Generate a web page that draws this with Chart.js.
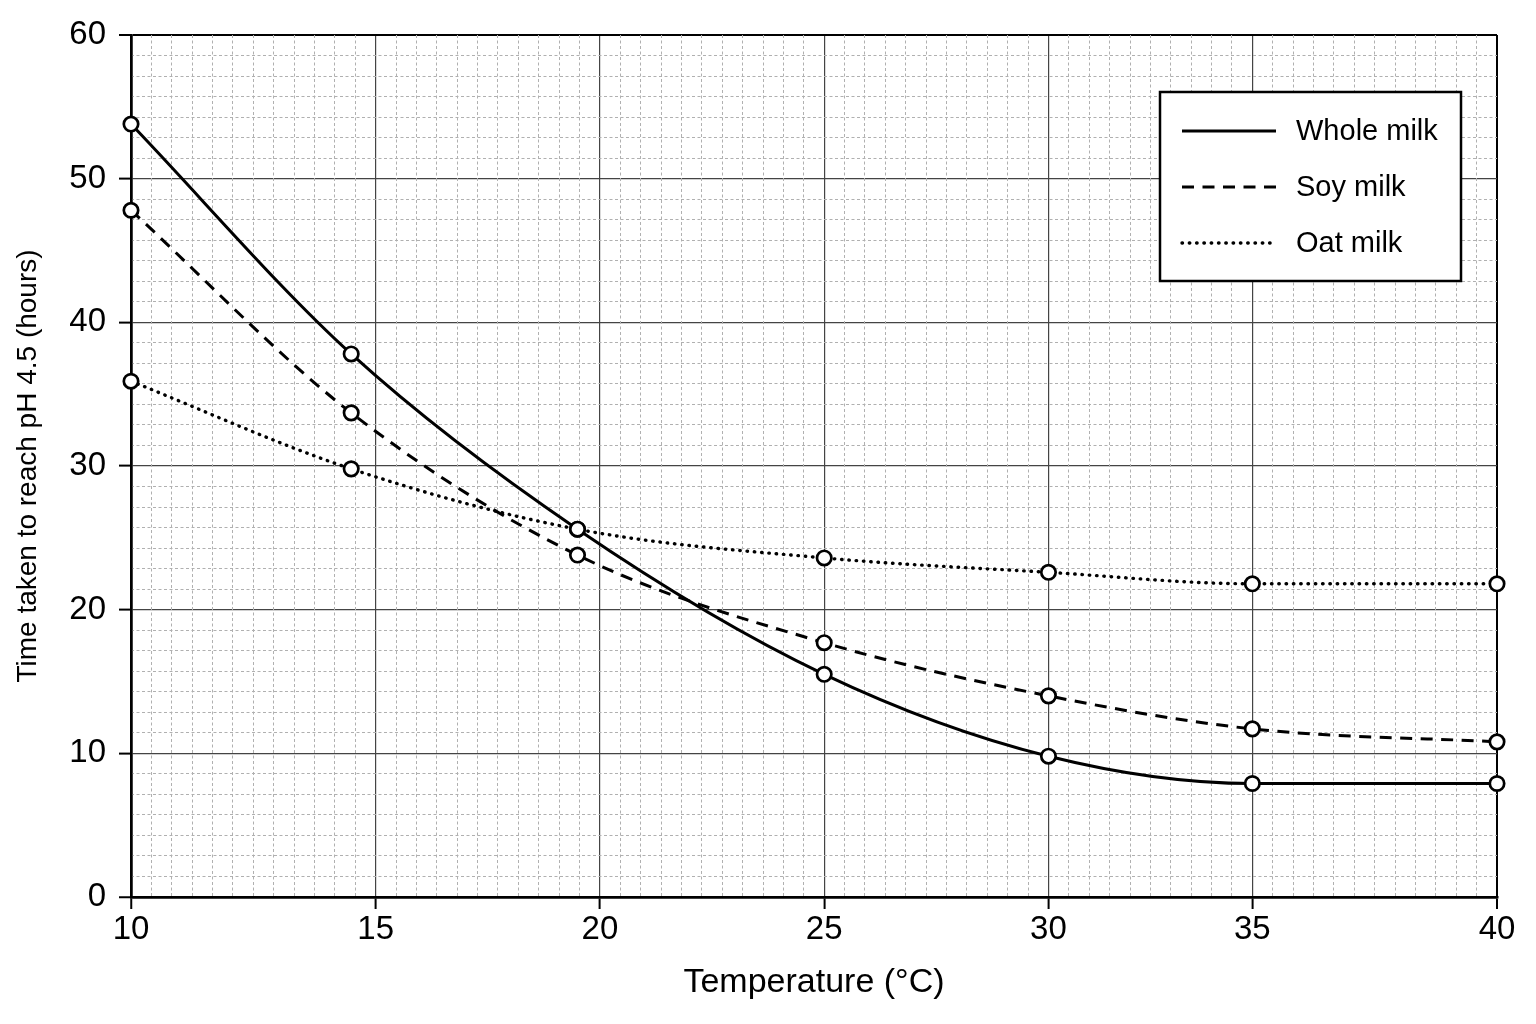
<!DOCTYPE html>
<html>
<head>
<meta charset="utf-8">
<script src="https://cdn.jsdelivr.net/npm/chart.js@4.4.1/dist/chart.umd.min.js"></script>
<style>
html,body{margin:0;padding:0;background:#fff;}
#wrap{width:1536px;height:1024px;position:relative;background:#fff;}
</style>
</head>
<body>
<div id="wrap"><canvas id="c"></canvas></div>
<script>
// ---------- data ----------
const temperatures = [10, 14.5, 19.5, 25, 30, 35, 40];
const wholeMilk = [53.8, 37.8, 25.6, 15.5, 9.8, 7.9, 7.9];
const soyMilk   = [47.8, 33.7, 23.8, 17.7, 14.0, 11.7, 10.8];
const oatMilk   = [35.9, 29.8, 25.6, 23.6, 22.6, 21.8, 21.8];
const seriesLabels = ['Whole milk', 'Soy milk', 'Oat milk'];
const xTickValues = [10, 15, 20, 25, 30, 35, 40];
const yTickValues = [0, 10, 20, 30, 40, 50, 60];
const xTitle = 'Temperature (°C)';
const yTitle = 'Time taken to reach pH 4.5 (hours)';

// ---------- axis layout (graph paper) ----------
// The printed x axis is not uniform: each labelled tick sits on a grid-paper cell line.
const xTickCells = [0, 12, 23, 34, 45, 55, 67];
const yCells = 42;
const yCellsPerMajor = yCells / (yTickValues.length - 1);
const xCellsTotal = xTickCells[xTickCells.length - 1];

// ---------- fonts ----------
function hasFont(name) {
  const c = document.createElement('canvas').getContext('2d');
  const s = 'Whole milk Temperature 0123';
  c.font = '40px monospace';
  const a = c.measureText(s).width;
  c.font = '40px "' + name + '", monospace';
  const b = c.measureText(s).width;
  return Math.abs(a - b) > 0.5;
}
const narrowOK = hasFont('Liberation Sans Narrow');
const SANS = '"Liberation Sans", Arial, Helvetica, sans-serif';
const NARROW = narrowOK ? '"Liberation Sans Narrow", "Arial Narrow", sans-serif' : SANS;
const legendFontSize = narrowOK ? 35 : 29;
const yTitleSize = narrowOK ? 34 : 28;

// ---------- piecewise linear scale ----------
class PaperScale extends Chart.LinearScale {
  static id = 'paper';
  static defaults = {};
  _toCells(v) {
    const t = xTickValues, c = xTickCells;
    let i = 0;
    while (i < t.length - 2 && v > t[i + 1]) i++;
    return c[i] + (v - t[i]) / (t[i + 1] - t[i]) * (c[i + 1] - c[i]);
  }
  getPixelForValue(value) {
    if (value === null || value === undefined || isNaN(value)) return NaN;
    return this.getPixelForDecimal(this._toCells(value) / xCellsTotal);
  }
  getValueForPixel(pixel) {
    const cell = this.getDecimalForPixel(pixel) * xCellsTotal;
    const t = xTickValues, c = xTickCells;
    let i = 0;
    while (i < c.length - 2 && cell > c[i + 1]) i++;
    return t[i] + (cell - c[i]) / (c[i + 1] - c[i]) * (t[i + 1] - t[i]);
  }
}
Chart.register(PaperScale);

// ---------- legend plugin ----------
const paperLegend = {
  id: 'paperLegend',
  afterDraw(chart) {
    const {ctx, chartArea} = chart;
    const w = 301, h = 189;
    const x = chartArea.right - 36 - w;
    const y = chartArea.top + 57;
    ctx.save();
    ctx.fillStyle = '#fff';
    ctx.fillRect(x, y, w, h);
    ctx.lineWidth = 2.5;
    ctx.strokeStyle = '#000';
    ctx.setLineDash([]);
    ctx.strokeRect(x, y, w, h);
    chart.data.datasets.forEach((ds, i) => {
      const cy = y + 39 + i * 56;
      ctx.save();
      ctx.setLineDash(ds.borderDash || []);
      ctx.lineCap = ds.borderCapStyle || 'butt';
      ctx.lineWidth = ds.borderWidth;
      ctx.strokeStyle = ds.borderColor;
      ctx.beginPath();
      ctx.moveTo(x + 22, cy);
      ctx.lineTo(x + 116, cy);
      ctx.stroke();
      ctx.restore();
      ctx.fillStyle = '#000';
      ctx.font = legendFontSize + 'px ' + NARROW;
      ctx.textBaseline = 'middle';
      ctx.textAlign = 'left';
      ctx.fillText(ds.label, x + 136, cy + 1);
    });
    ctx.restore();
  }
};

const toPoints = arr => temperatures.map((t, i) => ({x: t, y: arr[i]}));
const common = {
  xAxisID: 'x',
  yAxisID: 'y',
  borderColor: '#000',
  borderWidth: 3,
  pointRadius: 7.2,
  pointHoverRadius: 7.2,
  pointBorderWidth: 2.7,
  pointBackgroundColor: '#fff',
  pointBorderColor: '#000',
  cubicInterpolationMode: 'monotone',
  fill: false,
  clip: false
};

const edgeY = v => v === yTickValues[0] || v === yTickValues[yTickValues.length - 1];
const edgeX = v => v === xTickValues[0] || v === xTickValues[xTickValues.length - 1];

new Chart(document.getElementById('c'), {
  type: 'line',
  data: {
    datasets: [
      Object.assign({}, common, {label: seriesLabels[0], data: toPoints(wholeMilk), borderDash: []}),
      Object.assign({}, common, {label: seriesLabels[1], data: toPoints(soyMilk), borderDash: [12, 8.5]}),
      Object.assign({}, common, {label: seriesLabels[2], data: toPoints(oatMilk), borderDash: [0.5, 6.8], borderCapStyle: 'round', borderWidth: 3.4})
    ]
  },
  plugins: [paperLegend],
  options: {
    responsive: true,
    maintainAspectRatio: false,
    animation: false,
    layout: {padding: {left: 0, right: 39, top: 35, bottom: 0}},
    plugins: {legend: {display: false}, tooltip: {enabled: false}},
    scales: {
      x: {
        type: 'paper', position: 'bottom',
        min: xTickValues[0], max: xTickValues[xTickValues.length - 1],
        afterBuildTicks: s => { s.ticks = xTickValues.map(v => ({value: v})); },
        ticks: {padding: 1, maxRotation: 0, autoSkip: false, color: '#000',
          font: {family: SANS, size: 33}},
        grid: {
          color: c => (c.tick && edgeX(c.tick.value)) ? '#000' : '#444',
          lineWidth: c => (c.tick && c.tick.value === xTickValues[0]) ? 2.5 : (c.tick && edgeX(c.tick.value) ? 2 : 1.2),
          tickColor: '#000', tickWidth: 2, tickLength: 12, drawTicks: true
        },
        border: {display: true, color: '#000', width: 2.5},
        title: {display: true, text: xTitle, color: '#000',
          font: {family: SANS, size: 34}, padding: {top: 0, bottom: 21}},
        afterFit: s => { s.height = 127; }
      },
      y: {
        type: 'linear', position: 'left',
        min: yTickValues[0], max: yTickValues[yTickValues.length - 1],
        afterBuildTicks: s => { s.ticks = yTickValues.map(v => ({value: v})); },
        ticks: {padding: 13, color: '#000', font: {family: SANS, size: 33}},
        grid: {
          color: c => (c.tick && edgeY(c.tick.value)) ? '#000' : '#444',
          lineWidth: c => (c.tick && c.tick.value === yTickValues[0]) ? 2.5 : (c.tick && edgeY(c.tick.value) ? 2 : 1.2),
          tickColor: '#000', tickWidth: 2, tickLength: 12, drawTicks: true
        },
        border: {display: true, color: '#000', width: 2.5},
        title: {display: true, text: yTitle, color: '#000',
          font: {family: NARROW, size: yTitleSize}, padding: {top: 11, bottom: 0}},
        afterFit: s => { s.width = 131; }
      },
      xMinor: {
        type: 'linear', position: 'bottom', min: 0, max: xCellsTotal, z: -1,
        ticks: {display: false, stepSize: 1},
        grid: {drawTicks: false, lineWidth: 1,
          color: c => (c.tick && xTickCells.includes(c.tick.value)) ? 'rgba(0,0,0,0)' : '#b0b0b0'},
        border: {display: false, dash: [3, 2.5]}
      },
      yMinor: {
        type: 'linear', position: 'left', min: 0, max: yCells, z: -1,
        ticks: {display: false, stepSize: 1},
        grid: {drawTicks: false, lineWidth: 1,
          color: c => (c.tick && c.tick.value % yCellsPerMajor === 0) ? 'rgba(0,0,0,0)' : '#b0b0b0'},
        border: {display: false, dash: [3, 2.5]}
      }
    }
  }
});
</script>
</body>
</html>
